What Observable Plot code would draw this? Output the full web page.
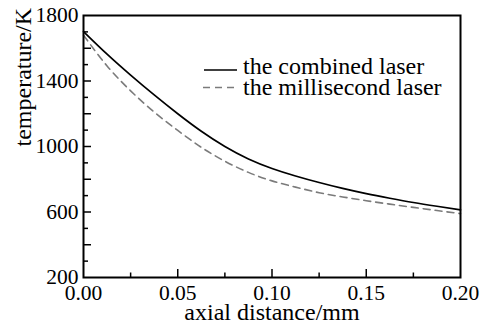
<!DOCTYPE html>
<html><head><meta charset="utf-8">
<script src="https://cdn.jsdelivr.net/npm/d3@7"></script>
<script src="https://cdn.jsdelivr.net/npm/@observablehq/plot@0.6"></script>
<style>
body{margin:0;background:#fff}
#chart{width:480px;height:325px}
#chart svg, #chart svg text{font-family:"Liberation Serif","Times New Roman",serif !important;}
</style>
</head><body><div id="chart"></div>
<script>
// axial distance (mm)
const distance = [0, 0.0125, 0.025, 0.0375, 0.05, 0.0625, 0.075, 0.0875, 0.1, 0.1125, 0.125, 0.1375, 0.15, 0.1625, 0.175, 0.1875, 0.2];
// temperature (K)
const combinedLaser =    [1702, 1564, 1436, 1315, 1200, 1093, 1000, 924, 866, 820, 780, 744, 712, 684, 658, 635, 613];
const millisecondLaser = [1680, 1492, 1340, 1210, 1098, 995, 910, 842, 790, 752, 718, 692, 669, 648, 628, 609, 590];
const seriesNames = ["the combined laser", "the millisecond laser"];
const xTickLabels = [0, 0.05, 0.1, 0.15, 0.2];
const yTickLabels = [200, 600, 1000, 1400, 1800];
const xLongTicks = [0.05, 0.1, 0.15];
const xShortTicks = [0.025, 0.075, 0.125, 0.175];
const yLongTicks = [400, 600, 800, 1000, 1200, 1400, 1600];
const yShortTicks = [300, 500, 700, 900, 1100, 1300, 1500, 1700];
const xTitle = "axial distance/mm";
const yTitle = "temperature/K";

const W = 480, H = 325, mL = 83, mR = 20, mT = 15, mB = 48;
const pw = W - mL - mR, ph = H - mT - mB;
const font = "'Liberation Serif', 'Times New Roman', serif";
const fs = 21.5;

const rowsA = distance.map((x, i) => ({x, t: combinedLaser[i]}));
const rowsB = distance.map((x, i) => ({x, t: millisecondLaser[i]}));

const chart = Plot.plot({
  width: W, height: H,
  marginLeft: mL, marginRight: mR, marginTop: mT, marginBottom: mB,
  style: {fontFamily: font, color: "#000", background: "#fff"},
  x: {domain: [0, 0.2], label: null},
  y: {domain: [200, 1800], label: null},
  marks: [
    Plot.line(rowsB, {x: "x", y: "t", stroke: "#7b7b7b", strokeWidth: 1.6, strokeDasharray: "7,5", curve: "natural"}),
    Plot.line(rowsA, {x: "x", y: "t", stroke: "#000", strokeWidth: 1.7, curve: "natural"}),
    Plot.ruleY(yLongTicks, {y: d => d, insetRight: pw - 8, strokeWidth: 1.5}),
    Plot.ruleY(yShortTicks, {y: d => d, insetRight: pw - 5, strokeWidth: 1.5}),
    Plot.ruleX(xLongTicks, {x: d => d, insetTop: ph - 8, strokeWidth: 1.5}),
    Plot.ruleX(xShortTicks, {x: d => d, insetTop: ph - 4.5, strokeWidth: 1.5}),
    Plot.frame({stroke: "#000", strokeWidth: 2}),
    Plot.axisY(yTickLabels, {tickSize: 0, tickPadding: 5, fontSize: fs, label: null, tickFormat: d => String(d)}),
    Plot.axisX(xTickLabels, {tickSize: 0, tickPadding: 7, fontSize: fs, label: null, tickFormat: d => d.toFixed(2)}),
    Plot.text([xTitle], {frameAnchor: "bottom", dy: 35, lineAnchor: "middle", fontSize: 24, text: d => d}),
    Plot.text([yTitle], {frameAnchor: "left", rotate: -90, dx: -60, lineAnchor: "middle", fontSize: 24, text: d => d})
  ]
});
document.getElementById("chart").appendChild(chart);

// legend inside plot area
const svg = d3.select(chart);
const lg = svg.append("g").attr("text-anchor", "start");
lg.append("line").attr("x1", 204).attr("x2", 237).attr("y1", 70).attr("y2", 70)
  .attr("stroke", "#000").attr("stroke-width", 1.7);
lg.append("line").attr("x1", 203).attr("x2", 238).attr("y1", 87.5).attr("y2", 87.5)
  .attr("stroke", "#7b7b7b").attr("stroke-width", 1.6).attr("stroke-dasharray", "7,5");
lg.append("text").attr("x", 243).attr("y", 73.5).text(seriesNames[0])
  .attr("font-size", 24).attr("fill", "#000");
lg.append("text").attr("x", 243).attr("y", 95).text(seriesNames[1])
  .attr("font-size", 24).attr("fill", "#000");
</script>
</body></html>
